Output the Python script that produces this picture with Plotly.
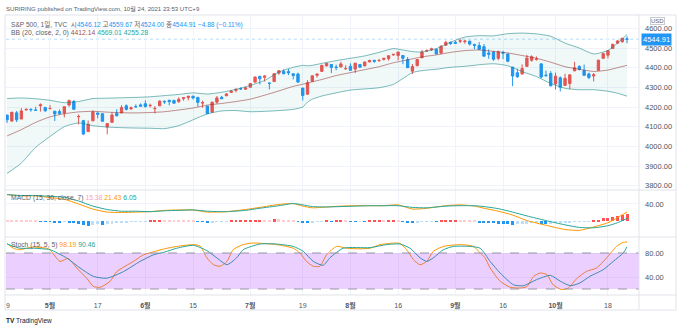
import plotly.graph_objects as go

# ---------------- data (index 0 = 2021-04-19, trading days) ----------------
opens = [4179.80,4159.18,4128.42,4170.46,4138.78,4185.03,4188.25,4185.14,4206.14,4198.10,
         4191.98,4179.04,4177.06,4169.14,4210.34,4228.29,4150.34,4130.55,4074.99,4129.58,
         4169.92,4165.94,4098.45,4121.97,4168.61,4170.16,4205.94,4191.59,4201.94,4210.77,
         4216.52,4206.82,4191.43,4206.05,4229.34,4233.81,4232.99,4228.56,4242.90,4248.31,
         4255.28,4248.87,4220.37,4204.78,4173.40,4224.61,4249.27,4256.97,4274.45,4284.90,
         4293.21,4290.65,4300.73,4326.60,4356.46,4351.01,4321.07,4329.38,4372.41,4381.07,
         4380.11,4369.02,4367.43,4296.40,4265.11,4331.13,4361.27,4381.20,4409.58,4416.38,
         4402.95,4403.59,4395.12,4406.86,4392.74,4415.95,4408.86,4429.07,4437.77,4435.79,
         4442.18,4446.08,4464.84,4461.65,4462.12,4440.94,4382.44,4410.56,4450.29,4484.40,
         4490.45,4493.75,4474.10,4513.76,4529.75,4528.80,4534.48,4532.42,4535.38,4518.09,
         4513.02,4506.92,4474.81,4479.33,4447.49,4477.09,4469.74,4402.95,4374.45,4367.43,
         4406.75,4438.04,4442.12,4419.54,4362.41,4370.67,4317.16,4348.84,4309.87,4319.57,
         4383.73,4406.51,4385.44,4368.31,4358.01,4386.75,4447.69,4463.72,4497.34,4524.42,
         4532.24,4546.12]
highs = [4180.81,4159.18,4175.02,4179.57,4194.17,4194.19,4193.35,4201.53,4218.78,4198.10,
         4209.39,4179.04,4187.72,4202.70,4238.04,4236.39,4162.04,4134.73,4131.58,4183.13,
         4171.92,4169.15,4116.93,4172.80,4188.72,4209.52,4213.42,4202.61,4213.38,4218.36,
         4234.12,4217.37,4204.39,4233.45,4232.34,4236.74,4237.09,4249.74,4248.38,4255.59,
         4257.16,4251.89,4232.29,4204.78,4226.24,4255.84,4256.60,4271.28,4286.12,4292.14,
         4300.52,4302.43,4320.66,4355.43,4356.46,4361.88,4324.81,4371.60,4386.68,4392.37,
         4393.68,4369.02,4375.09,4296.40,4336.84,4359.70,4369.87,4415.18,4422.73,4416.38,
         4415.47,4429.97,4412.25,4422.18,4423.79,4416.17,4429.76,4440.82,4439.39,4445.21,
         4449.44,4461.77,4468.37,4480.26,4462.12,4454.32,4418.61,4444.35,4489.88,4492.81,
         4501.71,4495.90,4513.33,4537.36,4531.39,4537.11,4545.85,4541.45,4535.38,4521.79,
         4529.90,4520.47,4492.99,4485.68,4486.87,4485.87,4471.52,4402.95,4394.87,4416.75,
         4465.40,4463.12,4457.30,4419.54,4385.57,4382.55,4375.19,4355.51,4369.23,4365.57,
         4429.97,4412.02,4415.88,4374.89,4372.87,4439.73,4475.82,4488.75,4520.40,4540.87,
         4551.44,4559.67]
lows = [4150.47,4118.38,4126.35,4123.69,4138.78,4182.36,4176.22,4181.78,4176.81,4174.85,
        4188.03,4128.59,4160.94,4147.33,4201.64,4188.13,4111.53,4056.88,4074.99,4129.58,
        4142.69,4125.99,4061.41,4121.97,4151.72,4170.16,4182.52,4184.11,4197.78,4203.57,
        4197.59,4198.27,4167.93,4206.05,4215.66,4208.41,4218.74,4220.34,4232.25,4234.07,
        4238.35,4202.45,4196.05,4164.40,4173.40,4217.27,4241.43,4256.97,4271.16,4274.67,
        4287.04,4287.96,4300.73,4326.60,4314.37,4329.79,4289.52,4329.38,4364.03,4366.92,
        4362.36,4340.70,4322.53,4233.13,4262.05,4331.13,4350.06,4381.20,4405.45,4372.51,
        4387.01,4403.59,4389.65,4384.81,4373.00,4400.23,4408.86,4429.07,4424.74,4430.03,
        4436.42,4435.96,4460.82,4437.66,4417.83,4397.59,4367.73,4406.80,4450.29,4482.28,
        4485.66,4468.99,4474.10,4513.76,4515.80,4522.02,4524.66,4521.94,4513.00,4493.95,
        4492.07,4457.66,4445.70,4435.46,4438.37,4443.80,4427.76,4305.91,4347.96,4367.43,
        4406.75,4430.27,4436.19,4346.33,4355.08,4306.24,4288.52,4278.94,4309.87,4290.49,
        4383.73,4386.22,4360.59,4342.09,4329.92,4386.75,4447.69,4447.47,4496.41,4524.40,
        4526.89,4524.00]
closes = [4163.26,4134.94,4173.42,4134.98,4180.17,4187.62,4186.72,4183.18,4211.47,4181.17,
          4192.66,4164.66,4167.59,4201.62,4232.60,4188.43,4152.10,4063.04,4112.50,4173.85,
          4163.29,4127.83,4115.68,4159.12,4155.86,4197.05,4188.13,4195.99,4200.88,4204.11,
          4202.04,4208.12,4192.85,4229.89,4226.52,4227.26,4219.55,4239.18,4247.44,4255.15,
          4246.59,4223.70,4221.86,4166.45,4224.79,4246.44,4241.84,4266.49,4280.70,4290.61,
          4291.80,4297.50,4319.94,4352.34,4343.54,4358.13,4320.82,4369.55,4384.63,4369.21,
          4374.30,4360.03,4327.16,4258.49,4323.06,4358.69,4367.48,4411.79,4422.30,4401.46,
          4400.64,4419.15,4395.26,4387.16,4423.15,4402.66,4429.10,4436.52,4432.35,4436.75,
          4447.70,4460.83,4468.00,4479.71,4448.08,4400.27,4405.80,4441.67,4479.53,4486.23,
          4496.19,4470.00,4509.37,4528.79,4522.68,4524.09,4536.95,4535.43,4520.03,4514.07,
          4493.28,4458.58,4468.73,4443.05,4480.70,4473.75,4432.99,4357.73,4354.19,4395.64,
          4448.98,4455.48,4443.11,4352.63,4359.46,4307.54,4357.04,4300.46,4345.72,4363.55,
          4399.76,4391.34,4361.19,4350.65,4363.80,4438.26,4471.37,4486.46,4519.63,4536.19,
          4549.78,4544.91]

# Bollinger Bands (index, value)
bb_idx = [1, 4, 7, 10, 13, 16, 19, 22, 25, 28, 31, 34, 37, 40, 43, 46, 49, 52, 55, 58, 61,
          63, 64, 65, 67, 70, 73, 76, 79, 82, 84, 86, 88, 91, 94, 97, 100, 103, 106, 109, 112,
          115, 118, 121, 124, 127, 129, 131]
bb_upper = [4243, 4246, 4242, 4234, 4222, 4228, 4243, 4245, 4247, 4249, 4252, 4258, 4264, 4272,
            4266, 4275, 4290, 4310, 4335, 4378, 4402, 4412, 4410, 4412, 4422, 4436, 4448, 4460,
            4478, 4497, 4490, 4482, 4480, 4497, 4530, 4556, 4563, 4562, 4573, 4576, 4572, 4560,
            4525, 4500, 4470, 4488, 4525, 4569.01]
bb_basis = [4053, 4085, 4122, 4150, 4166, 4175, 4178, 4174, 4171, 4170, 4172, 4176, 4185, 4195,
            4210, 4218, 4228, 4240, 4260, 4282, 4305, 4316, 4322, 4328, 4340, 4360, 4375, 4390,
            4405, 4425, 4435, 4445, 4455, 4465, 4478, 4487, 4490, 4483, 4475, 4462, 4448, 4428,
            4405, 4392, 4381, 4388, 4400, 4412.14]
bb_lower = [3862, 3915, 3995, 4050, 4100, 4119, 4105, 4098, 4095, 4093, 4092, 4090, 4105, 4135,
            4165, 4180, 4182, 4176, 4178, 4182, 4188, 4200, 4225, 4240, 4256, 4272, 4286, 4292,
            4298, 4315, 4345, 4375, 4385, 4392, 4402, 4407, 4415, 4420, 4410, 4380, 4355, 4320,
            4295, 4288, 4288, 4280, 4270, 4255.28]

# MACD (15, 30, close, 7)
macd_idx = [1, 4, 7, 10, 13, 16, 19, 22, 25, 28, 31, 34, 37, 40, 43, 47, 51, 54, 58, 61, 63,
            65, 68, 71, 74, 77, 80, 83, 86, 89, 93, 96, 99, 101, 104, 107, 110, 114, 118, 121,
            124, 127, 129, 131]
macd_line = [62, 59, 59, 55, 51, 40, 28, 21, 20, 21, 22, 25, 26, 26, 21, 22, 27, 32, 39, 41, 35,
             31, 33, 35, 36, 36, 36, 38, 28, 30, 36, 38, 35, 30, 23, 14, 1, -10, -20, -22, -14,
             -4, 8, 21.43]
macd_signal = [62, 60, 60, 58, 56, 47, 35, 27, 23, 23, 22, 24, 25, 26, 23, 22, 25, 30, 36, 41,
               38, 34, 33, 34, 35, 36, 36, 36, 32, 31, 35, 36, 36, 34, 29, 21, 12, 1, -9, -15,
               -16, -11, -4, 6.05]
macd_hist = [2, 2, 1.5, 1.5, 1, 1, 0.5, 0.5, -0.5, -1, -2, -2.5, -3, -2, -2.5, -5, -7, -10, -12,
             -10, -8, -9, -8, -6, -5, -4, -3, -2, -1.5, -1, -0.5, 1, 1.5, 2, 2, 2, 1.5, 1.5, 1,
             1, 0.5, -1, -2, -3, -2.5, -2, -1, -0.5, 0.5, 1, 1.5, 2, 2.5, 3, 3.5, 3.5, 3, 4, 4,
             3, 2, 1, -2, -4, -4, -3, -2, -1, 0.5, -0.5, 0.5, 1, 0.5, -1, -1, -0.5, -1, 0.5, 1,
             2, 2, 2.5, 3, 2.5, -2, -4, -4, -3, -2, -1.5, -1, -1, 0.5, 1.5, 2, 2.5, 2, 1, 0.5,
             0.5, -3, -4, -5, -5, -6, -6, -7, -9, -8, -7, -6, -5, -4, -6, -7, -6, -5, -4, -3.5,
             -2.5, -2, -1.5, -1, -0.5, 0.3, 3, 6, 8, 10, 12, 14, 15.38]

# Stochastic (15, 5, 5)
stk_idx = [1, 2.3, 3.7, 5.1, 6.5, 9.3, 10, 12.1, 13.8, 15.6, 17.7, 19.1, 20.5, 22.6, 24, 27.5,
           29.6, 31.7, 34, 36.6, 40.1, 41.5, 42.9, 44.3, 45.7, 47.1, 48.4, 50.5, 52.6, 57.5, 61,
           62.4, 63.8, 65.2, 66.6, 68, 70.1, 72.2, 75, 77.1, 79.2, 82, 83.4, 84.8, 86.2, 87.6,
           89, 90.4, 92.5, 96, 98.8, 100.2, 101.2, 102.3, 104.4, 106.5, 108.6, 110, 111.4,
           112.8, 114.2, 115.5, 117.3, 118.7, 120.4, 122.5, 124.6, 126.7, 128.8, 130.2, 131]
stoch_k = [96, 88, 85.5, 88, 90, 88, 85.5, 66, 71, 55, 38, 24.4, 22.8, 32.8, 49, 66, 77, 82, 87,
           91, 94, 91.5, 72, 60.5, 58, 66, 85.5, 94, 96.6, 94, 88, 80, 66, 58, 58, 77, 91, 88,
           87, 88, 94, 96.6, 96, 85.5, 69, 60.5, 66, 83, 91, 94, 91, 80, 72, 55, 33, 23, 21.6,
           24, 41, 46.6, 44, 27, 19, 21.6, 37, 49.4, 55, 71.7, 91, 97.8, 98.19]
std_idx = [1, 3.7, 6.5, 10, 13.5, 16.3, 19.1, 21.9, 25.4, 28.9, 31.7, 34.1, 36.6, 40.1, 42.9,
           45, 47.1, 49.1, 50.5, 54.1, 57.5, 61, 63.1, 65.2, 67.3, 68.7, 71.5, 77.1, 80.6, 83.4,
           85.5, 87.6, 89, 90.4, 92.5, 94.6, 98.1, 100.2, 102.3, 104.4, 107.2, 109.3, 112,
           114.9, 117, 119.1, 121.1, 123.2, 126, 128.1, 130.2, 131]
stoch_d = [95, 88, 88, 85.5, 71.7, 55, 41, 38, 49, 66, 77, 81.7, 88, 92.8, 84, 71.7, 60.5,
           71.7, 85.5, 95, 95, 91, 82.8, 66, 59.5, 72, 88, 89, 94, 95, 88, 72, 66, 72, 85.5, 91,
           91, 88, 66, 46.6, 27, 25.5, 35.5, 42.8, 33, 25.5, 30, 41, 52.2, 66, 80, 90.46]

tick_idx = [10, 20, 30, 40, 52, 63, 73, 83, 95, 105, 116, 127]
tick_txt = ["<b>5월</b>", "17", "<b>6월</b>", "15", "<b>7월</b>", "19", "<b>8월</b>",
            "16", "<b>9월</b>", "16", "<b>10월</b>", "18"]

# ---------------- geometry helpers ----------------
W, H = 680, 330
L, R, T, B = 6, 41, 15, 35
PW, PH = W - L - R, H - T - B


def px(x):
    return (x - L) / PW


def py(y):
    return (H - B - y) / PH


FONT = "Liberation Sans, Arial, Noto Sans CJK KR, sans-serif"
RED, BLUE = "#EF5350", "#2196F3"
ORANGE, TEAL = "#FF9800", "#26A69A"
n = len(closes)
x_all = list(range(n))

fig = go.Figure()

# Bollinger bands
fig.add_trace(go.Scatter(x=bb_idx, y=bb_upper, mode="lines", yaxis="y",
                         line=dict(color="rgba(19,132,132,0.55)", width=1, shape="spline", smoothing=0.6),
                         hoverinfo="skip"))
fig.add_trace(go.Scatter(x=bb_idx, y=bb_lower, mode="lines", yaxis="y", fill="tonexty",
                         fillcolor="rgba(25,135,135,0.06)",
                         line=dict(color="rgba(19,132,132,0.55)", width=1, shape="spline", smoothing=0.6),
                         hoverinfo="skip"))
fig.add_trace(go.Scatter(x=bb_idx, y=bb_basis, mode="lines", yaxis="y",
                         line=dict(color="rgba(135,35,35,0.5)", width=1, shape="spline", smoothing=0.6),
                         hoverinfo="skip"))

# candles (up = red, down = blue)
fig.add_trace(go.Candlestick(x=x_all, open=opens, high=highs, low=lows, close=closes,
                             yaxis="y", whiskerwidth=0,
                             increasing=dict(line=dict(color=RED, width=1), fillcolor=RED),
                             decreasing=dict(line=dict(color=BLUE, width=1), fillcolor=BLUE)))

# MACD histogram colours (TradingView 4-colour scheme)
hcol = []
for i, v in enumerate(macd_hist):
    prev = macd_hist[i - 1] if i > 0 else v
    if v >= 0:
        hcol.append("#FF5252" if v > prev else "#FFCDD2")
    else:
        hcol.append("#BBDEFB" if v > prev else "#2196F3")
fig.add_trace(go.Bar(x=x_all, y=macd_hist, yaxis="y2", marker=dict(color=hcol, line=dict(width=0)),
                     width=0.62))
fig.add_trace(go.Scatter(x=macd_idx, y=macd_line, mode="lines", yaxis="y2",
                         line=dict(color=ORANGE, width=1, shape="spline", smoothing=0.6)))
fig.add_trace(go.Scatter(x=macd_idx, y=macd_signal, mode="lines", yaxis="y2",
                         line=dict(color=TEAL, width=1, shape="spline", smoothing=0.6)))

# Stochastic
fig.add_trace(go.Scatter(x=stk_idx, y=stoch_k, mode="lines", yaxis="y3",
                         line=dict(color=ORANGE, width=1, shape="spline", smoothing=0.6)))
fig.add_trace(go.Scatter(x=std_idx, y=stoch_d, mode="lines", yaxis="y3",
                         line=dict(color=TEAL, width=1, shape="spline", smoothing=0.6)))

GRID = "#F0F3FA"
BORDER = "#E0E3EB"
xr = [(L - 2.3) / 4.769, (W - R - 2.3) / 4.769]
AX = "#50535E"

fig.update_layout(
    width=W, height=H, margin=dict(l=L, r=R, t=T, b=B),
    paper_bgcolor="white", plot_bgcolor="white", showlegend=False,
    font=dict(family=FONT, size=7.5, color=AX),
    bargap=0,
    xaxis=dict(range=xr, anchor="y3", tickvals=tick_idx, ticktext=tick_txt, showgrid=True,
               gridcolor=GRID, gridwidth=1, zeroline=False, showline=False, ticks="",
               rangeslider=dict(visible=False), tickfont=dict(size=7, color=AX),
               ticklabelstandoff=5, fixedrange=True),
    yaxis=dict(domain=[py(190), 1], range=[3778, 4668], side="right", anchor="x",
               tickvals=[3800, 3900, 4000, 4100, 4200, 4300, 4400, 4500, 4600],
               ticktext=["3800.00", "3900.00", "4000.00", "4100.00", "4200.00", "4300.00",
                         "4400.00", "4500.00", "4600.00"],
               showgrid=True, gridcolor=GRID, zeroline=False, ticks="", ticklabelstandoff=5,
               tickfont=dict(size=7.5, color=AX)),
    yaxis2=dict(domain=[py(237), py(190)], range=[-37.6, 72.9], side="right", anchor="x",
                tickvals=[40], ticktext=["40.00"], showgrid=True, gridcolor=GRID,
                zeroline=False, ticks="", ticklabelstandoff=5, tickfont=dict(size=7.5, color=AX)),
    yaxis3=dict(domain=[0, py(237)], range=[10, 106.7], side="right", anchor="x",
                tickvals=[40, 80], ticktext=["40.00", "80.00"], showgrid=True, gridcolor=GRID,
                zeroline=False, ticks="", ticklabelstandoff=5, tickfont=dict(size=7.5, color=AX)),
)

shapes = []
# stochastic band (drawn above the lines like TradingView)
shapes.append(dict(type="rect", xref="paper", x0=0, x1=1, yref="y3", y0=20, y1=80,
                   fillcolor="rgba(153,21,255,0.2)", line=dict(width=0), layer="above"))
for lvl in (20, 80):
    shapes.append(dict(type="line", xref="paper", x0=0, x1=1, yref="y3", y0=lvl, y1=lvl,
                       line=dict(color="#9598A1", width=1, dash="dash"), layer="above"))
# last price line
shapes.append(dict(type="line", xref="paper", x0=0, x1=1, yref="y", y0=closes[-1], y1=closes[-1],
                   line=dict(color="rgba(33,150,243,0.35)", width=1, dash="dot"), layer="below"))
# frame / pane separators
for yy in (15, 190, 237, 295, 310):
    shapes.append(dict(type="line", xref="paper", yref="paper", x0=px(5), x1=px(676),
                       y0=py(yy), y1=py(yy), line=dict(color=BORDER, width=1)))
for xx in (5, 639, 676):
    shapes.append(dict(type="line", xref="paper", yref="paper", x0=px(xx), x1=px(xx),
                       y0=py(15), y1=py(310), line=dict(color=BORDER, width=1)))
fig.update_layout(shapes=shapes)

GRAY = "#5D606B"
anns = []


def ann(x, y, text, size=7, color=GRAY, **kw):
    d = dict(x=px(x), y=py(y), xref="paper", yref="paper", text=text, showarrow=False,
             xanchor="left", yanchor="middle", font=dict(size=size, color=color, family=FONT))
    d.update(kw)
    anns.append(d)


ann(4, 8, "SURIRING published on TradingView.com, 10월 24, 2021 23:53 UTC+9", size=6.1)
blu = "color:#2196F3"
ann(9, 24, "S&P 500, 1일, TVC  시<span style='%s'>4546.12</span> 고<span style='%s'>4559.67</span>"
           " 저<span style='%s'>4524.00</span> 종<span style='%s'>4544.91</span>"
           " <span style='%s'>−4.88 (−0.11%%)</span>" % (blu, blu, blu, blu, blu), size=6.6)
ann(9, 33, "BB (20, close, 2, 0) <span style='color:#A0524E'>4412.14</span> "
           "<span style='color:#26A69A'>4569.01</span> <span style='color:#26A69A'>4255.28</span>",
    size=6.8)
ann(9, 198, "MACD (15, 30, close, 7) <span style='color:#F8A5AE'>15.38</span> "
            "<span style='color:#FF9800'>21.43</span> <span style='color:#26A69A'>6.05</span>",
    size=6.8)
ann(9, 245, "Stoch (15, 5, 5) <span style='color:#FF9800'>98.19</span> "
            "<span style='color:#26A69A'>90.46</span>", size=6.8)
ann(4, 321, "<b>TV</b> TradingView", size=6.5, color="#131722")
ann(3.5, 305, "9", size=7, color=AX, xanchor="left")
# right side boxes
anns.append(dict(x=px(641), y=closes[-1], xref="paper", yref="y", text="4544.91",
                 showarrow=False, xanchor="left", yanchor="middle", bgcolor="#2196F3",
                 font=dict(size=7.5, color="white", family=FONT), borderpad=1))
anns.append(dict(x=px(658), y=py(20.5), xref="paper", yref="paper", text="USD", showarrow=False,
                 xanchor="center", yanchor="middle", bgcolor="white", bordercolor="#C8CBD3",
                 borderwidth=1, borderpad=0, font=dict(size=6, color=GRAY, family=FONT)))
fig.update_layout(annotations=anns)

fig.write_html("out.html")
